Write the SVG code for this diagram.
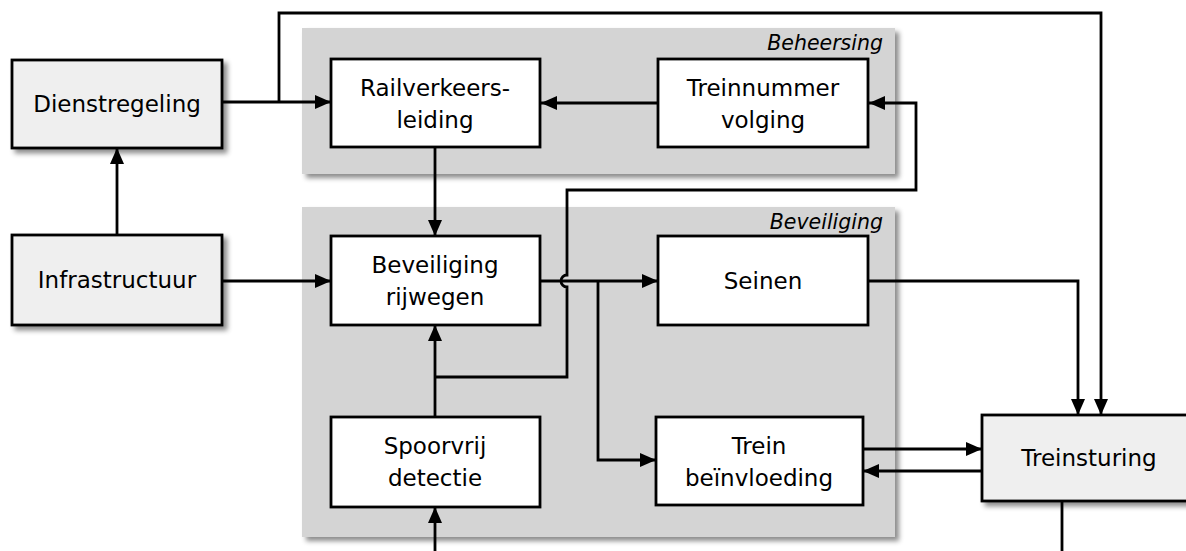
<svg xmlns="http://www.w3.org/2000/svg" width="1186" height="551" viewBox="0 0 1186 551">
<defs>
<filter id="sh" x="-10%" y="-10%" width="130%" height="130%">
<feDropShadow dx="4" dy="4" stdDeviation="2.5" flood-color="#000" flood-opacity="0.45"/>
</filter>
<marker id="ah" viewBox="0 0 16 14" markerWidth="16" markerHeight="14" refX="16" refY="7" orient="auto" markerUnits="userSpaceOnUse">
<path d="M0,0 L16,7 L0,14 Z" fill="#000"/>
</marker>
</defs>
<style>
.grp{fill:#d4d4d4;filter:url(#sh)}
.outer{fill:#efefef;stroke:#000;stroke-width:2.8;filter:url(#sh)}
.inner{fill:#fff;stroke:#000;stroke-width:2.8}
.t{font-family:"DejaVu Sans",Verdana,sans-serif;font-size:23px;fill:#000;text-anchor:middle}
.gl{font-family:"DejaVu Sans",Verdana,sans-serif;font-size:20.5px;font-style:italic;fill:#000;text-anchor:end}
.c{fill:none;stroke:#000;stroke-width:2.8}
.a{marker-end:url(#ah)}
</style>
<rect width="1186" height="551" fill="#fff"/>
<g id="beheersing">
<rect class="grp" x="302" y="28" width="593" height="146"/>
<text class="gl" x="883" y="50">Beheersing</text>
</g>
<g id="beveiliging">
<rect class="grp" x="302" y="207" width="593" height="330"/>
<text class="gl" x="883" y="229">Beveiliging</text>
</g>
<g id="dienstregeling">
<rect class="outer" x="12" y="60" width="210" height="88"/>
<text class="t" x="117" y="112">Dienstregeling</text>
</g>
<g id="infrastructuur">
<rect class="outer" x="12" y="235" width="210" height="90"/>
<text class="t" x="117" y="288">Infrastructuur</text>
</g>
<g id="treinsturing">
<rect class="outer" x="982" y="415" width="230" height="86"/>
<text class="t" x="1089" y="466">Treinsturing</text>
</g>
<g id="railverkeersleiding">
<rect class="inner" x="331" y="59" width="209" height="88"/>
<text class="t" x="435" y="96">Railverkeers-</text>
<text class="t" x="435" y="128">leiding</text>
</g>
<g id="treinnummervolging">
<rect class="inner" x="658" y="59" width="210" height="88"/>
<text class="t" x="763" y="96">Treinnummer</text>
<text class="t" x="763" y="128">volging</text>
</g>
<g id="beveiligingrijwegen">
<rect class="inner" x="331" y="236" width="209" height="89"/>
<text class="t" x="435" y="273">Beveiliging</text>
<text class="t" x="435" y="305">rijwegen</text>
</g>
<g id="seinen">
<rect class="inner" x="658" y="236" width="210" height="89"/>
<text class="t" x="763" y="289">Seinen</text>
</g>
<g id="spoorvrijdetectie">
<rect class="inner" x="331" y="417" width="209" height="90"/>
<text class="t" x="435" y="454">Spoorvrij</text>
<text class="t" x="435" y="486">detectie</text>
</g>
<g id="treinbeinvloeding">
<rect class="inner" x="656" y="417" width="207" height="88"/>
<text class="t" x="759" y="454">Trein</text>
<text class="t" x="759" y="486">beïnvloeding</text>
</g>
<g id="connectors">
<path class="c a" d="M117,235 V148"/>
<path class="c a" d="M222,102 H331"/>
<path class="c a" d="M279,102 V13 H1101 V415"/>
<path class="c a" d="M658,103 H541"/>
<path class="c a" d="M435,147 V236"/>
<path class="c a" d="M222,281 H331"/>
<path class="c a" d="M540,281 H658"/>
<path class="c a" d="M598,281 V460 H656"/>
<path class="c a" d="M435,417 V325"/>
<path class="c a" d="M435,377 H567 V287 A6,6 0 0 1 567,275 V190 H916 V103 H869"/>
<path class="c a" d="M868,281 H1078 V415"/>
<path class="c a" d="M863,449 H982"/>
<path class="c a" d="M982,471 H863"/>
<path class="c" d="M1062,501 V551"/>
<path class="c a" d="M435,551 V507"/>
</g>
</svg>
